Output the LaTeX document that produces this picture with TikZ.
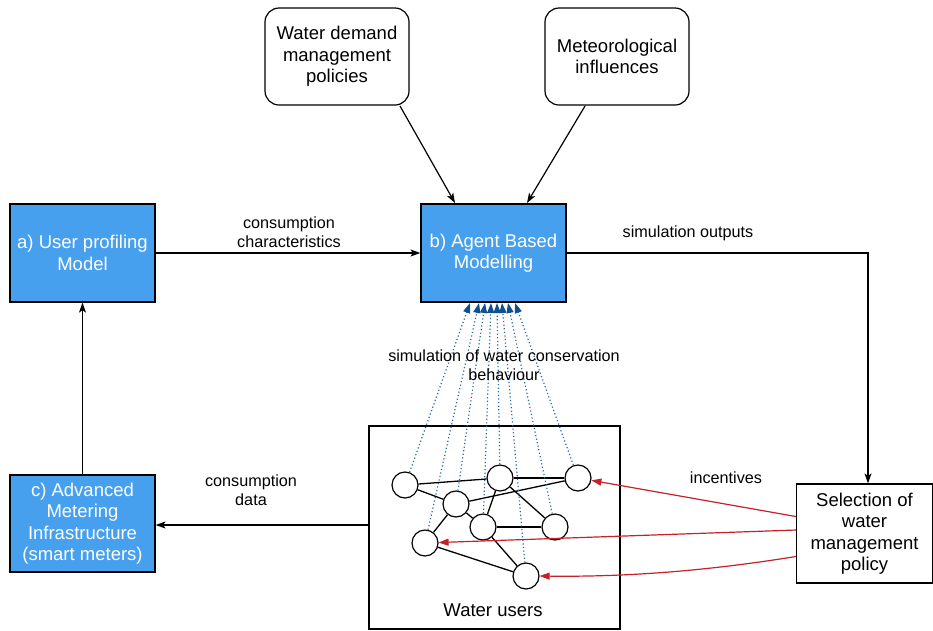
\documentclass[tikz,border=0pt]{standalone}
\usepackage{fontspec}
\setmainfont{Liberation Sans}
\usetikzlibrary{arrows.meta}
\definecolor{boxblue}{HTML}{47A0EE}
\definecolor{dotblue}{HTML}{2A68AC}
\definecolor{arrblue}{HTML}{0E4F8F}
\definecolor{redarr}{HTML}{C8202A}
\tikzset{
  bluebox/.style={draw=black, line width=1.2pt, fill=boxblue, text=white, minimum width=145pt, minimum height=98pt, align=center, font=\fontsize{18.5}{21.5}\selectfont, inner sep=0pt},
  roundbox/.style={draw=black, line width=1.2pt, fill=white, rounded corners=14pt, minimum width=144pt, minimum height=97pt, align=center, font=\fontsize{18.5}{21.5}\selectfont, inner sep=0pt},
  plainbox/.style={draw=black, line width=1.2pt, fill=white, align=center, font=\fontsize{18.5}{21.5}\selectfont, inner sep=0pt},
  lbl/.style={align=center, font=\fontsize{16.2}{19}\selectfont, inner sep=0pt},
  user/.style={circle, draw=black, line width=1.2pt, fill=white, minimum size=26pt, inner sep=0pt},
  conn/.style={draw=black, line width=1.2pt, -{Stealth[length=10pt,width=7pt,inset=2.5pt]}},
  link/.style={draw=black, line width=1.3pt},
  dotline/.style={draw=dotblue, line width=1.2pt, dash pattern=on 1.2pt off 2.4pt, -{Triangle[length=10pt,width=7pt,color=arrblue]}},
  redline/.style={draw=redarr, line width=1.2pt, -{Triangle[length=10pt,width=7pt]}}
}
\begin{document}
\begin{tikzpicture}[x=1pt,y=-1pt]
\useasboundingbox (0,0) rectangle (933,630);
% boxes
\node[bluebox] (a) at (82.5,253) {a) User profiling\\Model};
\node[bluebox] (b) at (493.5,253) {b) Agent Based\\Modelling};
\node[bluebox, minimum height=97pt] (c) at (82.5,523.5) {c) Advanced\\Metering\\Infrastructure\\(smart meters)};
\node[roundbox] (wd) at (337,56.5) {Water demand\\management\\policies};
\node[roundbox] (met) at (617,56.5) {Meteorological\\influences};
\node[plainbox, minimum width=251pt, minimum height=203pt] (wu) at (494.5,527.5) {};
\node[lbl, font=\fontsize{18.5}{21.5}\selectfont] (wul) at (493,610) {Water users};
\node[plainbox, minimum width=136pt, minimum height=99pt] (sel) at (864.5,533.5) {Selection of\\water\\management\\policy};
% users
\node[user] (c1) at (405,485) {};
\node[user] (c2) at (500,478) {};
\node[user] (c3) at (578,478) {};
\node[user] (c4) at (456,504) {};
\node[user] (c5) at (483,527) {};
\node[user] (c6) at (555,527) {};
\node[user] (c7) at (425,543) {};
\node[user] (c8) at (526,576) {};
\draw[link] (c1) -- (c2);
\draw[link] (c1) -- (c4);
\draw[link] (c2) -- (c3);
\draw[link] (c4) -- (c3);
\draw[link] (c2) -- (c5);
\draw[link] (c2) -- (c6);
\draw[link] (c4) -- (c5);
\draw[link] (c5) -- (c6);
\draw[link] (c4) -- (c7);
\draw[link] (c7) -- (c8);
\draw[link] (c5) -- (c8);
% targets on b
\coordinate (t1) at (470,303);
\coordinate (t2) at (479,303);
\coordinate (t3) at (485,303);
\coordinate (t4) at (491,303);
\coordinate (t5) at (497,303);
\coordinate (t6) at (502,303);
\coordinate (t7) at (508,303);
\coordinate (t8) at (515,303);
\draw[dotline] (c1) -- (t1);
\draw[dotline] (c7) -- (t2);
\draw[dotline] (c4) -- (t3);
\draw[dotline] (c5) -- (t4);
\draw[dotline] (c2) -- (t5);
\draw[dotline] (c8) -- (t6);
\draw[dotline] (c6) -- (t7);
\draw[dotline] (c3) -- (t8);
% connectors
\draw[conn] (a) -- (b);
\coordinate (corner) at (868,253);
\draw[conn] (b.east) -- (corner) -- (sel.north -| corner);
\coordinate (wds) at (400,106);
\coordinate (wde) at (455,203);
\draw[conn] (wds) -- (wde);
\coordinate (mets) at (585,106);
\coordinate (mete) at (527,203);
\draw[conn] (mets) -- (mete);
\draw[conn] (c) -- (a);
\draw[conn] (wu.west |- 0,525) -- (c.east |- 0,525);
% red
\draw[redline] ([yshift=17pt]sel.west) -- (c3);
\draw[redline] ([yshift=3.5pt]sel.west) -- (c7);
\draw[redline] ([yshift=-23pt]sel.west) .. controls (700,572) and (620,577) .. (c8.east);
% labels
\node[lbl] (l1) at (289,232) {consumption\\characteristics};
\node[lbl] (l2) at (688,233.5) {simulation outputs};
\node[lbl] (l3) at (504,365) {simulation of water conservation\\behaviour};
\node[lbl] (l4) at (251,490) {consumption\\data};
\node[lbl] (l5) at (726,477.5) {incentives};
\end{tikzpicture}
\end{document}
